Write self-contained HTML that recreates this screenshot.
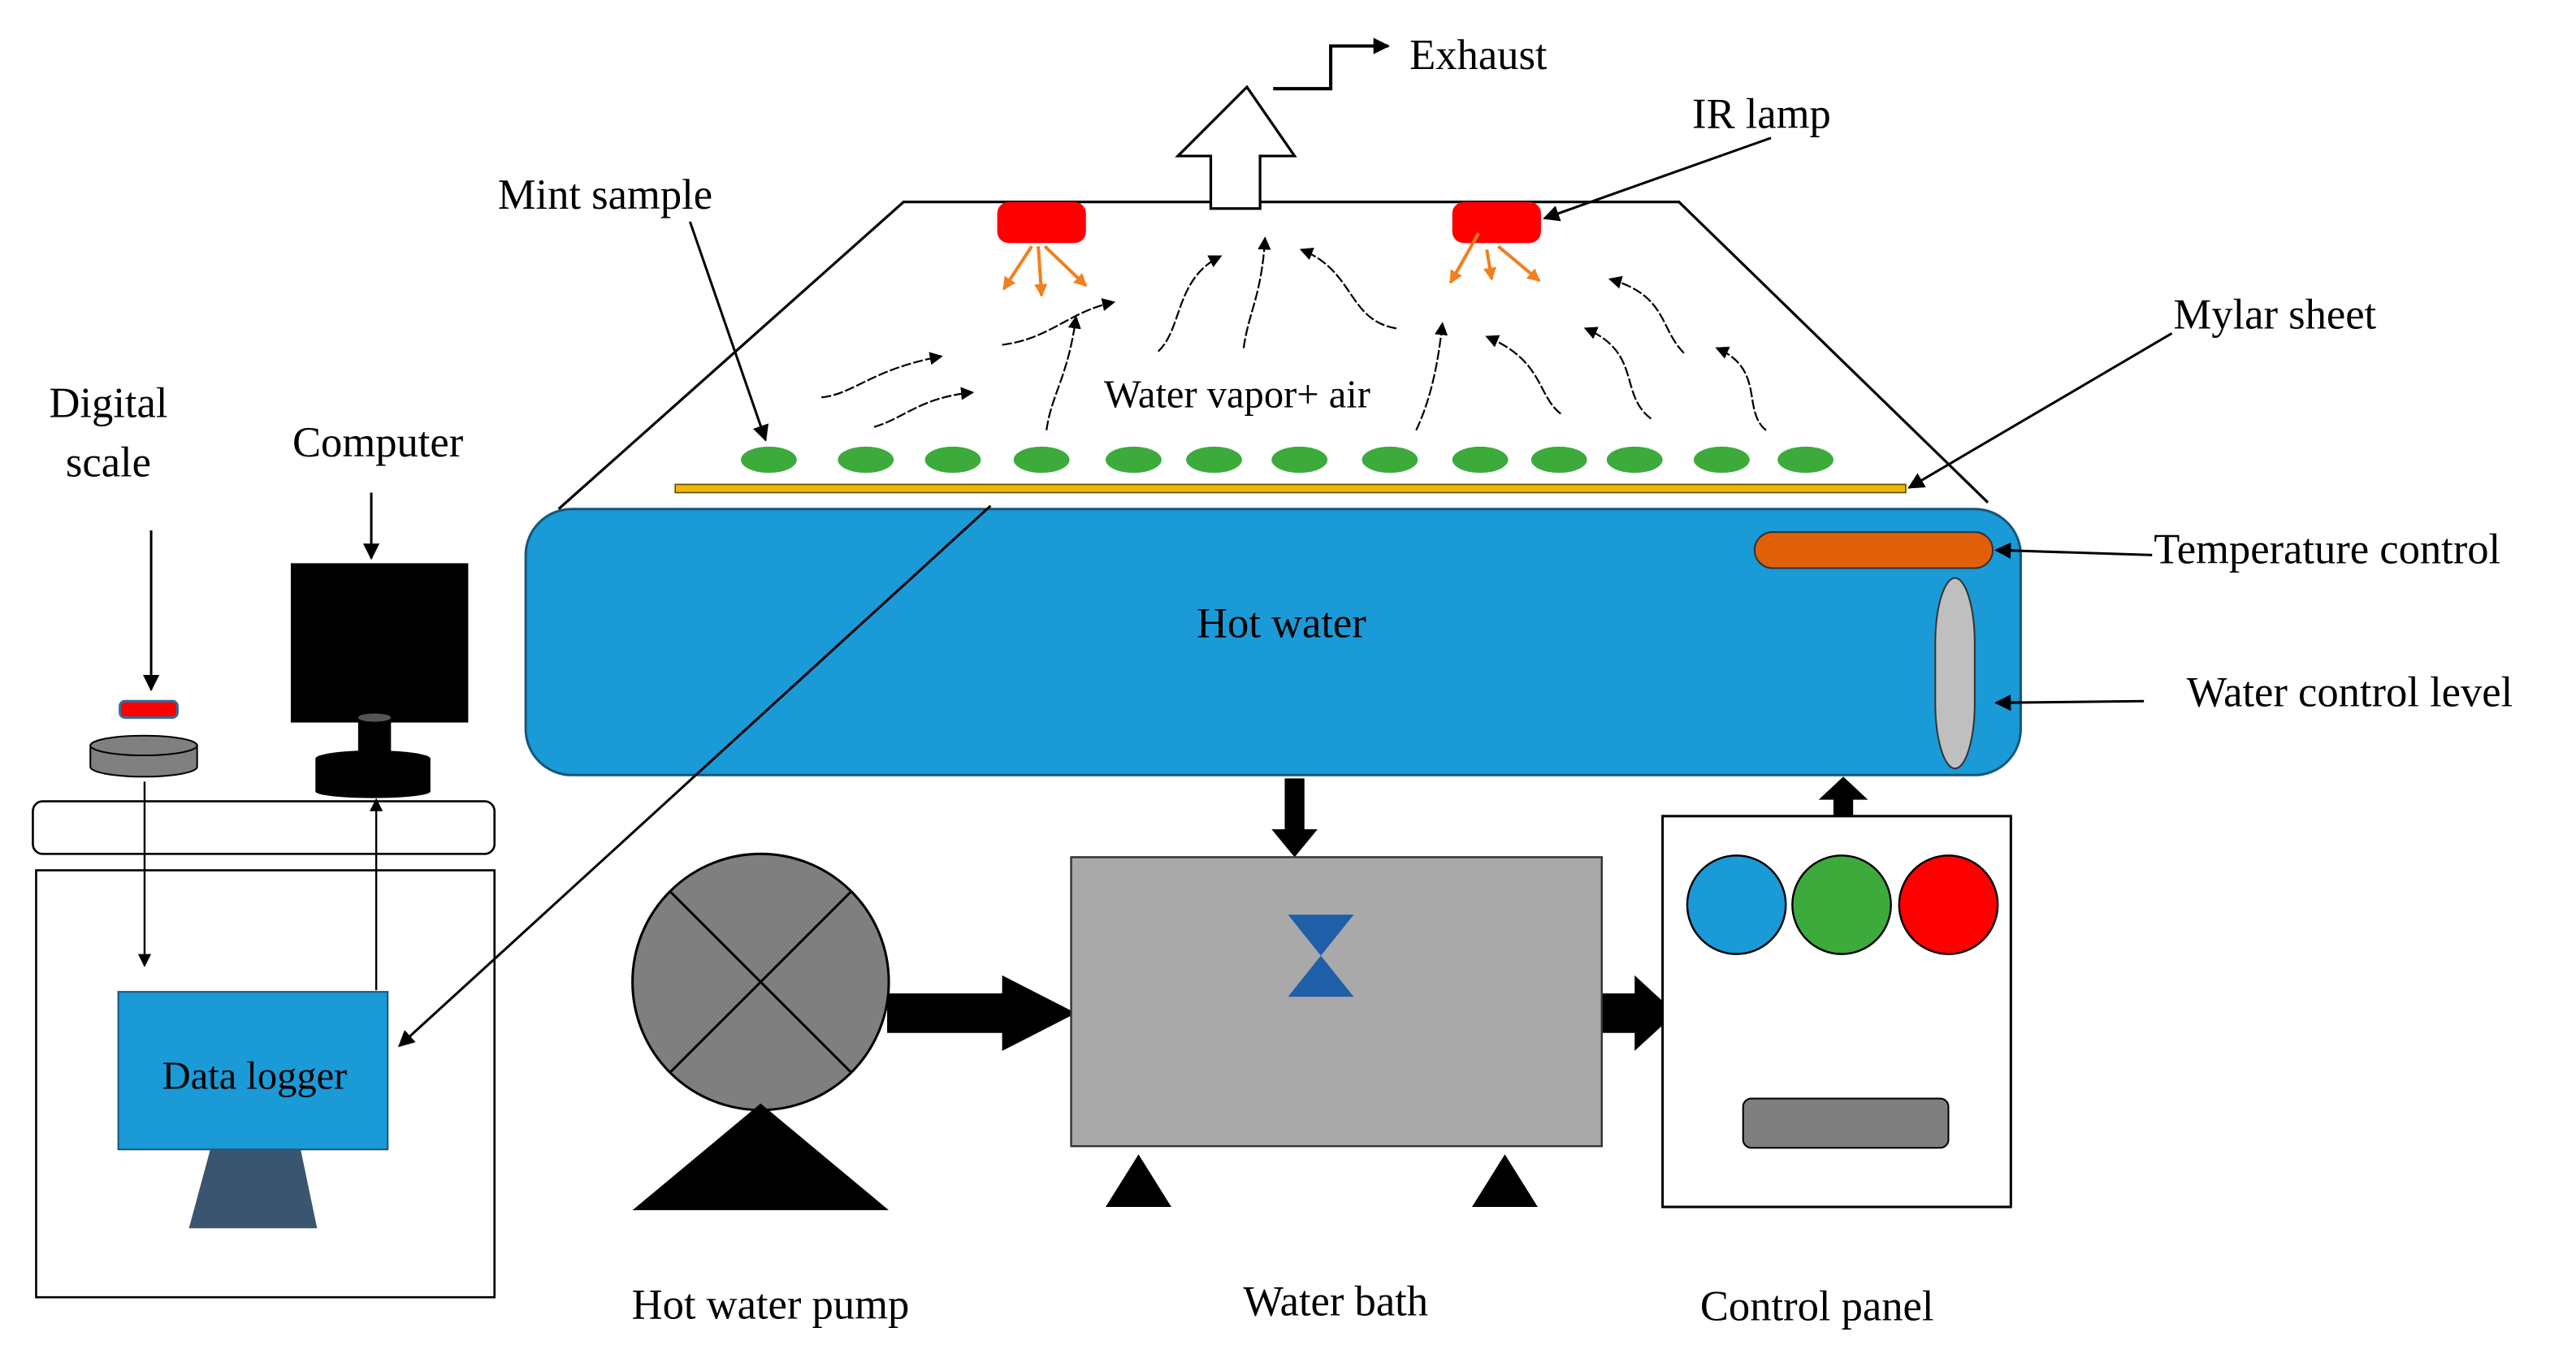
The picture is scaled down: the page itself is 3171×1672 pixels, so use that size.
<!DOCTYPE html>
<html><head><meta charset="utf-8"><style>html,body{margin:0;padding:0;background:#fff}svg{display:block}svg text{font-family:"Liberation Serif","Times New Roman","DejaVu Serif",serif !important;fill:#000}</style></head><body>
<svg width="3171" height="1672" viewBox="0 0 1568 827" preserveAspectRatio="none" xmlns="http://www.w3.org/2000/svg" font-family="Liberation Serif, Times New Roman, DejaVu Serif, serif">
<defs>
<marker id="a" markerWidth="8" markerHeight="8" refX="7" refY="4" orient="auto" markerUnits="userSpaceOnUse"><path d="M0,0 L8,4 L0,8z" fill="#000"/></marker>
<marker id="b" markerWidth="10" markerHeight="10" refX="9" refY="5" orient="auto" markerUnits="userSpaceOnUse"><path d="M0,0 L10,5 L0,10z" fill="#000"/></marker>
<marker id="o" markerWidth="8" markerHeight="8" refX="7" refY="4" orient="auto" markerUnits="userSpaceOnUse"><path d="M0,0 L8,4 L0,8z" fill="#f08020"/></marker>
</defs>
<path d="M340,310 L550,123 L1022,123 L1210,306" fill="none" stroke="#000" stroke-width="1.6"/>
<path d="M737,127 L737,95 L717,95 L759,53 L788,95 L767,95 L767,127 Z" fill="#fff" stroke="#000" stroke-width="1.6"/>
<path d="M775,54 L810,54 L810,28 L845,28" fill="none" stroke="#000" stroke-width="2" marker-end="url(#b)"/>
<text x="858" y="42" font-size="26">Exhaust</text>
<rect x="607" y="123" width="54" height="25" rx="7" fill="#ff0000"/>
<rect x="884" y="123" width="54" height="25" rx="7" fill="#ff0000"/>
<g stroke="#f08020" stroke-width="2" marker-end="url(#o)">
<line x1="628" y1="150" x2="611" y2="176"/><line x1="632" y1="150" x2="634" y2="180"/><line x1="636" y1="150" x2="661" y2="174"/>
<line x1="900" y1="142" x2="883" y2="172"/><line x1="905" y1="152" x2="908" y2="170"/><line x1="912" y1="150" x2="937" y2="171"/>
</g>
<text x="1030" y="78" font-size="26">IR lamp</text>
<line x1="1078" y1="84" x2="940" y2="133" stroke="#000" stroke-width="1.5" marker-end="url(#b)"/>
<g fill="none" stroke="#000" stroke-width="1.1" stroke-dasharray="6 1.5" marker-end="url(#a)">
<path d="M500,242 C520,240 530,225 573,217"/>
<path d="M532,260 C550,255 560,242 592,239"/>
<path d="M610,210 C640,206 650,190 678,184"/>
<path d="M637,262 C640,240 650,230 655,193"/>
<path d="M705,214 C720,200 715,170 743,156"/>
<path d="M757,212 C760,190 768,180 770,145"/>
<path d="M850,200 C820,195 825,165 792,152"/>
<path d="M862,262 C870,245 875,225 878,197"/>
<path d="M950,252 C935,240 940,220 905,205"/>
<path d="M1005,255 C985,240 1000,215 965,200"/>
<path d="M1025,215 C1010,200 1015,180 980,170"/>
<path d="M1075,262 C1060,250 1075,225 1045,212"/>
</g>
<text x="672" y="248" font-size="24">Water vapor+ air</text>
<g fill="#3cab3c">
<ellipse cx="468" cy="280" rx="17" ry="8"/><ellipse cx="527" cy="280" rx="17" ry="8"/><ellipse cx="580" cy="280" rx="17" ry="8"/><ellipse cx="634" cy="280" rx="17" ry="8"/><ellipse cx="690" cy="280" rx="17" ry="8"/><ellipse cx="739" cy="280" rx="17" ry="8"/><ellipse cx="791" cy="280" rx="17" ry="8"/><ellipse cx="846" cy="280" rx="17" ry="8"/><ellipse cx="901" cy="280" rx="17" ry="8"/><ellipse cx="949" cy="280" rx="17" ry="8"/><ellipse cx="995" cy="280" rx="17" ry="8"/><ellipse cx="1048" cy="280" rx="17" ry="8"/><ellipse cx="1099" cy="280" rx="17" ry="8"/>
</g>
<text x="303" y="127" font-size="26">Mint sample</text>
<line x1="420" y1="135" x2="466" y2="268" stroke="#000" stroke-width="1.5" marker-end="url(#b)"/>
<rect x="411" y="295" width="749" height="5" fill="#f0b800" stroke="#5a4a00" stroke-width="0.8"/>
<text x="1323" y="200" font-size="26">Mylar sheet</text>
<line x1="1322" y1="203" x2="1162" y2="297" stroke="#000" stroke-width="1.5" marker-end="url(#b)"/>
<rect x="320" y="310" width="910" height="162" rx="28" fill="#1a9ad6" stroke="#17567a" stroke-width="1.5"/>
<text x="780" y="388" font-size="26" text-anchor="middle">Hot water</text>
<rect x="1068" y="324" width="145" height="22" rx="11" fill="#e0600a" stroke="#333" stroke-width="1"/>
<rect x="1178" y="352" width="24" height="116" rx="12" ry="40" fill="#bfbfbf" stroke="#333" stroke-width="1"/>
<text x="1311" y="343" font-size="26">Temperature control</text>
<line x1="1310" y1="338" x2="1215" y2="335" stroke="#000" stroke-width="1.5" marker-end="url(#b)"/>
<text x="1331" y="430" font-size="26">Water control level</text>
<line x1="1305" y1="427" x2="1215" y2="428" stroke="#000" stroke-width="1.5" marker-end="url(#b)"/>
<path d="M782,474 L794,474 L794,505 L802,505 L788,522 L774,505 L782,505Z" fill="#000"/>
<path d="M1116,498 L1128,498 L1128,487 L1137,487 L1122,473 L1107,487 L1116,487Z" fill="#000"/>
<path d="M540,605 L610,605 L610,594 L655,617 L610,640 L610,629 L540,629Z" fill="#000"/>
<path d="M972,605 L995,605 L995,594 L1020,617 L995,640 L995,629 L972,629Z" fill="#000"/>
<rect x="652" y="522" width="323" height="176" fill="#a9a9a9" stroke="#333" stroke-width="1.2"/>
<path d="M784,557 L824,557 L804,582 L824,607 L784,607 L804,582Z" fill="#1e5fa8"/>
<path d="M673,735 L693,703 L713,735Z M896,735 L916,703 L936,735Z" fill="#000"/>
<circle cx="463" cy="598" r="78" fill="#7f7f7f" stroke="#000" stroke-width="1.5"/>
<line x1="408" y1="543" x2="518" y2="653" stroke="#000" stroke-width="1.5"/>
<line x1="518" y1="543" x2="408" y2="653" stroke="#000" stroke-width="1.5"/>
<path d="M385,737 L463,672 L541,737Z" fill="#000"/>
<rect x="1012" y="497" width="212" height="238" fill="#fff" stroke="#000" stroke-width="1.5"/>
<circle cx="1057" cy="551" r="30" fill="#1a9ad6" stroke="#000" stroke-width="1.2"/>
<circle cx="1121" cy="551" r="30" fill="#3cab3c" stroke="#000" stroke-width="1.2"/>
<circle cx="1186" cy="551" r="30" fill="#ff0000" stroke="#000" stroke-width="1.2"/>
<rect x="1061" y="669" width="125" height="30" rx="5" fill="#7f7f7f" stroke="#000" stroke-width="1"/>
<text x="469" y="803" font-size="26" text-anchor="middle">Hot water pump</text>
<text x="813" y="801" font-size="26" text-anchor="middle">Water bath</text>
<text x="1106" y="804" font-size="26" text-anchor="middle">Control panel</text>
<rect x="20" y="488" width="281" height="32" rx="6" fill="#fff" stroke="#000" stroke-width="1.3"/>
<rect x="22" y="530" width="279" height="260" fill="#fff" stroke="#000" stroke-width="1.3"/>
<rect x="72" y="604" width="164" height="96" fill="#1a9ad6" stroke="#17567a" stroke-width="1"/>
<text x="155" y="663" font-size="24" text-anchor="middle">Data logger</text>
<path d="M128,700 L183,700 L193,748 L115,748Z" fill="#3a5570"/>
<path d="M55,454 L55,467 A32.5,6 0 0 0 120,467 L120,454 Z" fill="#808080" stroke="#000" stroke-width="1"/>
<ellipse cx="87.5" cy="454" rx="32.5" ry="6" fill="#808080" stroke="#000" stroke-width="1"/>
<rect x="73" y="427" width="35" height="10" rx="3" fill="#ff0000" stroke="#2a6fa0" stroke-width="1.5"/>
<text x="66" y="254" font-size="26" text-anchor="middle">Digital</text>
<text x="66" y="290" font-size="26" text-anchor="middle">scale</text>
<line x1="92" y1="323" x2="92" y2="420" stroke="#000" stroke-width="1.5" marker-end="url(#b)"/>
<rect x="177" y="343" width="108" height="97" fill="#000"/>
<rect x="218" y="437" width="20" height="25" fill="#000"/>
<ellipse cx="228" cy="437" rx="10" ry="2.5" fill="#555"/>
<rect x="192" y="462" width="70" height="20" fill="#000"/>
<ellipse cx="227" cy="462" rx="35" ry="5" fill="#000"/>
<ellipse cx="227" cy="482" rx="35" ry="4" fill="#000"/>
<text x="230" y="278" font-size="26" text-anchor="middle">Computer</text>
<line x1="226" y1="300" x2="226" y2="340" stroke="#000" stroke-width="1.5" marker-end="url(#b)"/>
<line x1="88" y1="476" x2="88" y2="588" stroke="#000" stroke-width="1.2" marker-end="url(#a)"/>
<line x1="229" y1="603" x2="229" y2="487" stroke="#000" stroke-width="1.2" marker-end="url(#a)"/>
<line x1="603" y1="308" x2="243" y2="637" stroke="#000" stroke-width="1.5" marker-end="url(#b)"/>
</svg>
</body></html>
